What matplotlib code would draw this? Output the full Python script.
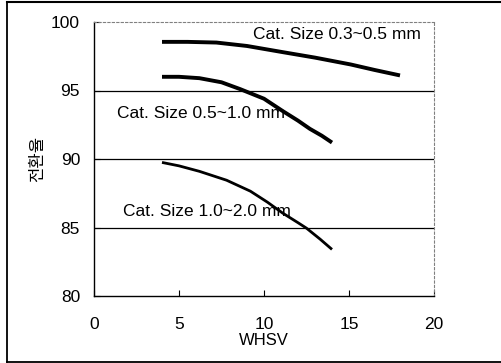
import matplotlib
matplotlib.use("Agg")
import matplotlib.pyplot as plt
from matplotlib.lines import Line2D

plt.rcParams["font.family"] = ["Liberation Sans", "Noto Sans CJK KR", "DejaVu Sans"]

# values
whsv_a = [4, 5.5, 7.2, 9, 11.1, 13, 15.1, 16.5, 18]
conv_a = [98.55, 98.55, 98.5, 98.25, 97.8, 97.4, 96.9, 96.5, 96.1]
whsv_b = [4, 5, 6.2, 7.5, 8.6, 10, 11.1, 12, 12.7, 13.4, 14]
conv_b = [96.0, 96.0, 95.9, 95.6, 95.1, 94.4, 93.5, 92.8, 92.2, 91.7, 91.2]
whsv_c = [4, 5, 6.2, 7.8, 9.2, 10.2, 11.1, 12, 12.5, 13.3, 14]
conv_c = [89.75, 89.5, 89.1, 88.45, 87.65, 86.85, 86.05, 85.35, 84.95, 84.15, 83.4]
labels = ["Cat. Size 0.3~0.5 mm", "Cat. Size 0.5~1.0 mm", "Cat. Size 1.0~2.0 mm"]
label_pos = [(9.35, 99.1), (1.35, 93.35), (1.7, 86.2)]

fig = plt.figure(figsize=(5.01, 3.63), dpi=100)
ax = fig.add_axes([94 / 501, 67 / 363, 340 / 501, 274 / 363])

# scanned page frame: left, top and bottom edges only
W, H = 501, 363
fig.add_artist(Line2D([7 / W, 7 / W], [1.5 / H, 1 - 1.5 / H], color="black", lw=1.3))
fig.add_artist(Line2D([7 / W, 1], [1 - 1.8 / H, 1 - 1.8 / H], color="black", lw=1.5))
fig.add_artist(Line2D([7 / W, 1], [1.5 / H, 1.5 / H], color="black", lw=1.3))

for y in [85, 90, 95]:
    ax.axhline(y, color="black", lw=0.9, zorder=1)

ax.plot(whsv_a, conv_a, color="black", lw=2.8, solid_capstyle="butt")
ax.plot(whsv_b, conv_b, color="black", lw=2.8, solid_capstyle="butt")
ax.plot(whsv_c, conv_c, color="black", lw=2.0, solid_capstyle="butt")

for txt, (x, y) in zip(labels, label_pos):
    ax.text(x, y, txt, fontsize=12.5, ha="left", va="center")

ax.set_xlim(0, 20)
ax.set_ylim(80, 100)
ax.set_xticks([0, 5, 10, 15, 20])
ax.set_yticks([80, 85, 90, 95, 100])
ax.tick_params(direction="in", length=4, labelsize=12.5)
ax.tick_params(axis="x", pad=15)
ax.tick_params(axis="y", pad=10)
ax.set_xlabel("WHSV", fontsize=12, labelpad=1)
ax.set_ylabel("전환율", fontsize=12, labelpad=4)
for s in ["top", "right"]:
    ax.spines[s].set_linestyle((0, (2, 2)))
    ax.spines[s].set_color("gray")
    ax.spines[s].set_linewidth(0.8)
for s in ["left", "bottom"]:
    ax.spines[s].set_linewidth(1.0)

fig.savefig("out.png", dpi=100)
